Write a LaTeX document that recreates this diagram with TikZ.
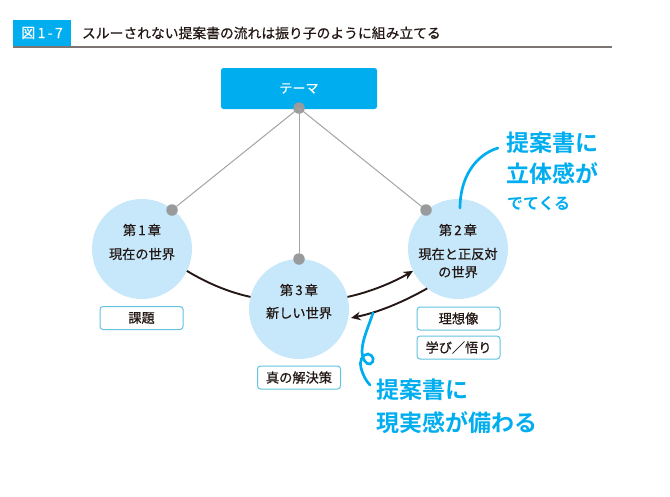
\documentclass[tikz,border=0pt]{standalone}
\usepackage{fontspec}
\setmainfont{Noto Sans CJK JP}
\newfontfamily\jpb{Noto Sans CJK JP}[FakeBold=0.6]
\newfontfamily\hand{Noto Sans CJK JP Bold}
\usetikzlibrary{arrows.meta}
\definecolor{hdblue}{HTML}{00AEEF}
\definecolor{pale}{HTML}{C7E8FA}
\definecolor{tagline}{HTML}{63C3E0}
\definecolor{dotgray}{HTML}{999A9C}
\definecolor{ink}{HTML}{231815}
\tikzset{
  every node/.style={text=ink,inner sep=0pt,outer sep=0pt},
  chapter/.style={circle,fill=pale,minimum size=100pt},
  knob/.style={circle,fill=dotgray,minimum size=11.5pt},
  tag/.style={draw=tagline,line width=1pt,rounded corners=3pt,fill=white,minimum width=83pt,minimum height=23pt,font=\jpb\fontsize{13.2}{15}\selectfont},
  ctext/.style={font=\jpb\fontsize{13.2}{15}\selectfont},
  string/.style={draw=dotgray!90,line width=1pt},
  swing/.style={draw=ink,line width=1.9pt},
  swingarrow/.style={swing,-{Stealth[length=9.5pt,width=8.5pt]}},
  pen/.style={draw=hdblue,line width=2.7pt,line cap=round},
  note/.style={text=hdblue,anchor=west,font=\hand\fontsize{23}{25}\selectfont}
}
\begin{document}
\begin{tikzpicture}[x=1pt,y=-1pt]
\useasboundingbox (0,0) rectangle (670,496);
\fill[white] (0,0) rectangle (670,496);
% header
\node[fill=hdblue,minimum width=58pt,minimum height=26pt,text=white,font=\jpb\fontsize{14}{15}\selectfont] (fig) at (42,33) {図\,1\,-\,7};
\coordinate (ruleL) at (13,47);
\coordinate (ruleR) at (612,47);
\draw[draw=ink!60,line width=1.3pt] (ruleL) -- (ruleR);
\node[anchor=west,font=\jpb\fontsize{13.8}{15}\selectfont] (title) at (82,33) {スルーされない提案書の流れは振り子のように組み立てる};
% theme
\node[fill=hdblue,rounded corners=2.5pt,minimum width=156pt,minimum height=41pt,text=white,font=\jpb\fontsize{13}{15}\selectfont] (theme) at (299,88.5) {テーマ};
% circles
\node[chapter] (c1) at (142,249) {};
\node[chapter] (c2) at (458,249) {};
\node[chapter] (c3) at (299,309) {};
% knobs and strings
\node[knob] (k0) at (299,108) {};
\node[knob] (k1) at (172,210) {};
\node[knob] (k2) at (426,210) {};
\node[knob] (k3) at (299,259) {};
\draw[string] (k0.center) -- (k1);
\draw[string] (k0.center) -- (k2);
\draw[string] (k0.center) -- (k3);
% circle texts
\node[ctext] (t1a) at (142,230) {第\,1\,章};
\node[ctext] (t1b) at (142,254) {現在の世界};
\node[ctext] (t2a) at (458,230) {第\,2\,章};
\node[ctext] (t2b) at (458,254) {現在と正反対};
\node[ctext] (t2c) at (458,272) {の世界};
\node[ctext] (t3a) at (299,290) {第\,3\,章};
\node[ctext] (t3b) at (299,313) {新しい世界};
% tags
\node[tag] (g1) at (141.5,318) {課題};
\node[tag] (g3) at (299,377.5) {真の解決策};
\node[tag] (g2a) at (458.5,318.5) {理想像};
\node[tag] (g2b) at (458.5,347.5) {学び／悟り};
% swings
\draw[swing] (c1.-26) .. controls (207,283) and (228,292) .. (c3.166);
\draw[swingarrow] (c3.14) .. controls (370,292) and (392,283) .. (c2.206);
\draw[swingarrow,shorten >=3pt] (c2.232) .. controls (405,301) and (380,312) .. (c3.-11);
% notes
\coordinate (n1s) at (498,148);
\coordinate (n1e) at (460,208);
\draw[pen] (n1s) .. controls (475,155) and (460,178) .. (n1e);
\coordinate (n2s) at (373,313);
\coordinate (n2e) at (370,385);
\draw[pen] (n2s) .. controls (368,328) and (362,340) .. (362,352) .. controls (362,358) and (366,365) .. (370,364) .. controls (375,362) and (374,355) .. (368,354) .. controls (362,354) and (359,362) .. (361,368) .. controls (363,375) and (366,381) .. (n2e);
\node[note] (h1) at (506,143) {提案書に};
\node[note] (h2) at (506,174) {立体感が};
\node[note,font=\hand\fontsize{16}{18}\selectfont] (h3) at (507,204) {でてくる};
\node[note] (h4) at (376,390) {提案書に};
\node[note] (h5) at (376,423) {現実感が備わる};
\end{tikzpicture}
\end{document}
